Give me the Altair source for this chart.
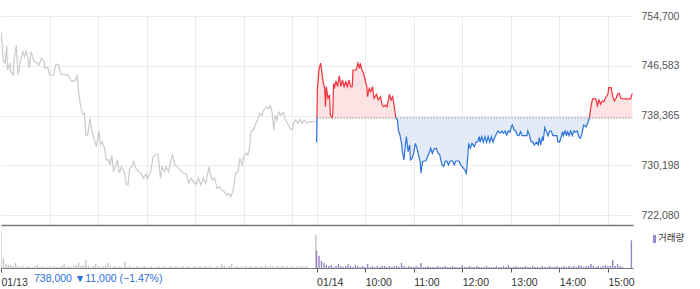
import altair as alt
import pandas as pd

BASE = 738000  # previous close (dotted reference line)

# ---- 01/13 (previous day) : minutes since 09:00, price ----
d1_min = [0, 3, 5, 7, 8, 11, 12, 15, 16, 19, 21, 24, 27, 29, 31, 33, 35, 37, 39, 41,
          45, 47, 50, 53, 54, 58, 60, 65, 68, 71, 74, 78, 82, 84, 87, 91, 94, 96, 98, 101,
          103, 105, 107, 110, 112, 115, 118, 121, 123, 125, 128, 130, 133, 135, 137, 139, 142, 144, 146, 149,
          152, 155, 157, 159, 162, 164, 167, 170, 173, 176, 179, 181, 185, 188, 192, 194, 197, 199, 202, 204,
          207, 210, 212, 215, 218, 221, 225, 229, 232, 235, 238, 241, 244, 247, 250, 253, 257, 258, 261, 264,
          267, 270, 273, 276, 279, 281, 284, 287, 290, 293, 295, 298, 300, 303, 305, 307, 309, 312, 315, 317,
          320, 323, 324, 328, 331, 333, 335, 337, 339, 341, 343, 346, 349, 351, 354, 357, 360, 361, 364, 367,
          369, 372, 375, 378, 381, 385, 389]
d1_price = [752130, 747210, 747000, 749830, 745850, 747000, 745570, 745030, 747490, 749830,
            745030, 747210, 748850, 748030, 748960, 748030, 746130, 748850, 748030, 747210,
            747000, 746670, 747770, 747210, 746230, 746230, 745030, 745030, 746780, 746780,
            745140, 745030, 745140, 744750, 744050, 744050, 744910, 742290, 740110, 738590,
            738750, 735190, 735080, 737930, 736010, 734650, 733280, 735850, 733560, 734100,
            733010, 731100, 731100, 730280, 731920, 729180, 730280, 731100, 728920, 730000,
            729180, 727110, 727000, 729740, 730000, 730820, 729620, 729180, 728920, 728100,
            728750, 727980, 729180, 731640, 732030, 732030, 728100, 730000, 729180, 730000,
            729180, 731100, 731920, 730280, 730000, 729460, 728920, 728920, 727280, 728100,
            727540, 727110, 728100, 727000, 728100, 727280, 730000, 729180, 727820, 728100,
            726460, 726720, 726180, 725900, 725360, 725640, 725080, 726180, 728920, 729180,
            731370, 730280, 731640, 732190, 731920, 733010, 735740, 736010, 737110, 737650,
            738750, 738470, 739130, 739830, 739570, 740000, 738920, 736010, 738470, 737650,
            738920, 738470, 738920, 737820, 737110, 736290, 736010, 736830, 737650, 737110,
            737770, 737110, 737650, 737110, 737370, 737370, 737490]

# ---- 01/14 (today) : minutes since 09:00, price ----
d2_min = [0, 1, 3, 5, 7, 8, 10, 11, 12, 14, 16, 17, 19, 20, 21, 22, 24, 26, 28, 30,
          32, 34, 36, 38, 40, 42, 44, 45, 49, 51, 53, 54, 56, 58, 60, 62, 63, 65, 67, 69,
          71, 74, 76, 79, 81, 83, 85, 87, 90, 92, 94, 96, 98, 100, 101, 103, 105, 106, 108, 110,
          111, 113, 115, 116, 118, 120, 122, 124, 126, 128, 129, 131, 133, 135, 137, 139, 141, 143, 145, 148,
          150, 152, 155, 157, 159, 161, 163, 165, 168, 170, 172, 176, 178, 180, 183, 185, 186, 188, 190, 192,
          195, 197, 199, 201, 202, 204, 206, 208, 210, 212, 214, 216, 218, 220, 222, 224, 227, 229, 231, 233,
          235, 237, 239, 241, 242, 244, 246, 248, 250, 252, 254, 257, 260, 261, 263, 265, 267, 269, 272, 274,
          275, 277, 279, 280, 282, 284, 286, 288, 290, 292, 295, 297, 298, 300, 302, 304, 305, 307, 309, 310,
          312, 314, 316, 318, 320, 322, 324, 326, 328, 330, 333, 335, 337, 339, 341, 343, 345, 347, 349, 351,
          353, 355, 357, 360, 361, 364, 366, 368, 370, 372, 374, 376, 380, 384, 388, 390]
d2_price = [734000, 742850, 746010, 746950, 745030, 743930, 742850, 739830, 743110, 741210,
            741750, 738470, 738030, 738750, 743670, 742850, 744050, 743110, 744910, 743110,
            744210, 743110, 743930, 743110, 744210, 743110, 743110, 745850, 745850, 746950,
            746130, 746950, 745850, 745310, 744210, 743110, 741470, 742850, 742290, 743110,
            741210, 741870, 740930, 741470, 740110, 739830, 740110, 739830, 741870, 740930,
            741470, 739830, 737930, 737650, 736010, 735190, 733830, 732460, 731100, 733830,
            734920, 732460, 733560, 731100, 731370, 732190, 733830, 733010, 731920, 730820,
            728920, 730820, 730930, 730930, 731640, 732190, 733010, 732190, 732900, 733010,
            732190, 732030, 730280, 730000, 730930, 730930, 730280, 730930, 730930, 730280,
            730930, 730930, 730280, 730000, 729460, 728920, 730280, 733830, 733010, 733830,
            733280, 734000, 734100, 734920, 734000, 734920, 734000, 734920, 734000, 734920,
            734000, 734920, 734000, 734750, 735310, 735850, 735470, 735850, 735470, 735850,
            735190, 735850, 735640, 736720, 736830, 736010, 735850, 735190, 735080, 735740,
            735080, 735080, 735080, 735850, 735190, 734100, 734100, 733560, 734000, 733560,
            734750, 733560, 734920, 734210, 736390, 735740, 735080, 735850, 735850, 735080,
            735080, 735080, 734100, 734000, 734750, 735740, 735080, 735850, 735080, 735850,
            735080, 735850, 735080, 735850, 735640, 735850, 734920, 734650, 735470, 736830,
            736550, 737110, 737930, 739830, 741100, 741100, 741100, 740000, 740930, 740230,
            740770, 740650, 741310, 741870, 742950, 742950, 741470, 740770, 741210, 741870,
            742030, 741210, 741100, 741100, 741100, 742030]

# ---- volume (thousand shares), one bar every 3 minutes, plus closing auctions ----
vol_step = 3
d1_vol = [36, 9, 4, 3, 3, 2, 5, 2, 1, 2, 1, 2, 1, 1, 2, 3, 1, 2, 1, 1,
          2, 1, 2, 1, 1, 2, 4, 1, 2, 1, 2, 3, 5, 2, 3, 8, 2, 1, 2, 4,
          2, 1, 2, 3, 5, 2, 1, 2, 1, 2, 1, 6, 1, 2, 1, 1, 2, 1, 1, 2,
          1, 1, 2, 1, 1, 2, 1, 2, 1, 1, 2, 1, 2, 1, 1, 2, 1, 2, 1, 1,
          2, 1, 2, 1, 2, 1, 2, 1, 1, 2, 1, 4, 2, 1, 2, 4, 1, 2, 1, 2,
          1, 2, 1, 2, 1, 2, 1, 2, 1, 3, 1, 2, 2, 1, 2, 1, 2, 1, 2, 1,
          2, 1, 2, 1, 2, 1, 2, 0, 0, 0]
d1_close_min, d1_close_vol = 389, 32
d2_vol = [17, 12, 7, 5, 3, 2, 3, 1, 2, 4, 2, 1, 2, 4, 2, 1, 3, 2, 1, 2,
          1, 4, 1, 2, 1, 2, 1, 2, 2, 1, 2, 1, 2, 2, 1, 5, 2, 1, 2, 1,
          1, 2, 1, 5, 1, 1, 2, 1, 1, 1, 2, 1, 1, 2, 1, 1, 2, 1, 1, 1,
          3, 1, 1, 2, 1, 1, 2, 1, 1, 1, 2, 1, 1, 1, 2, 1, 1, 2, 1, 3,
          1, 1, 2, 1, 1, 1, 2, 1, 1, 2, 1, 1, 1, 2, 1, 1, 2, 1, 1, 2,
          1, 1, 2, 1, 2, 1, 2, 1, 3, 2, 1, 2, 2, 4, 2, 1, 2, 1, 2, 3,
          2, 2, 8, 2, 4, 2, 1, 0, 0, 0]
d2_close_min, d2_close_vol = 389, 27

# ---- axis labels ----
price_ticks = [722080, 730198, 738365, 746583, 754700]
x_tick_vals = [0, 390, 450, 510, 570, 630, 690, 750]
x_tick_labels = ["01/13", "01/14", "10:00", "11:00", "12:00", "13:00", "14:00", "15:00"]
grid_vals = [60, 120, 180, 240, 300, 360, 390, 450, 510, 570, 630, 690, 750]
info_text = "738,000 \u25bc11,000 (\u22121.47%)"
legend_text = "거래량"

DAY = 390  # minutes in one session (09:00-15:30)

# ---------------- data frames ----------------
df1 = pd.DataFrame({"t": d1_min, "price": d1_price})

pts = [(m + DAY, p) for m, p in zip(d2_min, d2_price)]
rows = []
run = 0
side = lambda v: "up" if v >= BASE else "down"
cur = side(pts[0][1])
rows.append({"t": pts[0][0], "price": pts[0][1], "run": run, "side": cur})
for (ta, pa), (tb, pb) in zip(pts, pts[1:]):
    sb = side(pb)
    if sb != cur:
        tc = ta + (BASE - pa) / (pb - pa) * (tb - ta)
        rows.append({"t": tc, "price": BASE, "run": run, "side": cur})
        run += 1
        cur = sb
        rows.append({"t": tc, "price": BASE, "run": run, "side": cur})
    rows.append({"t": tb, "price": pb, "run": run, "side": cur})
df2 = pd.DataFrame(rows)
df2["t"] = df2["t"].astype(float)
df2["price"] = df2["price"].astype(float)
df2["base"] = float(BASE)
df_up = df2[df2["side"] == "up"]
df_dn = df2[df2["side"] == "down"]

vrows = []
for i, v in enumerate(d1_vol):
    if v > 0:
        vrows.append({"t": i * vol_step, "vol": v * 1000, "day": "d1"})
vrows.append({"t": d1_close_min, "vol": d1_close_vol * 1000, "day": "d1"})
for i, v in enumerate(d2_vol):
    if v > 0:
        vrows.append({"t": DAY + i * vol_step, "vol": v * 1000, "day": "d2"})
vrows.append({"t": DAY + d2_close_min, "vol": d2_close_vol * 1000, "day": "d2"})
dfv = pd.DataFrame(vrows)

# ---------------- styles ----------------
W = 632
H_MAIN = 209
H_VOL = 42
X_DOMAIN = [0, 781]
Y_DOMAIN = [720441, 754700]
GRID = "#ebebeb"
RED, BLUE = "#f2323c", "#2e74d8"
PINK, LIGHTBLUE = "#fde3e4", "#e3ebf8"
GRAY_LINE = "#c8cace"
PURPLE, GRAY_BAR = "#9a84c8", "#c6c6c6"
FONT = "Liberation Sans"

xs = alt.Scale(domain=X_DOMAIN, nice=False, zero=False, padding=0)
ys = alt.Scale(domain=Y_DOMAIN, nice=False, zero=False)

x_main = alt.X("t:Q", scale=xs, title=None,
               axis=alt.Axis(values=grid_vals, labels=False, ticks=False, grid=True,
                             gridColor=GRID, domain=True, domainColor="#7a7a7a",
                             domainWidth=1.5))
y_main = alt.Y("price:Q", scale=ys, title=None,
               axis=alt.Axis(orient="right", values=price_ticks, format=",d",
                             ticks=False, domain=False, grid=True, gridColor=GRID,
                             labelPadding=8, labelFontSize=10.5, labelColor="#555",
                             labelFont=FONT))

gray = alt.Chart(df1).mark_line(color=GRAY_LINE, strokeWidth=1.2, clip=True).encode(x=x_main, y=y_main)


def fill(df, color):
    return alt.Chart(df).mark_area(color=color, opacity=1, clip=True).encode(
        x=alt.X("t:Q", scale=xs),
        y=alt.Y("price:Q", scale=ys, stack=None),
        y2=alt.Y2("base:Q"),
        detail="run:N",
    )


def stroke(df, color):
    return alt.Chart(df).mark_line(color=color, strokeWidth=1.2, clip=True).encode(
        x=alt.X("t:Q", scale=xs),
        y=alt.Y("price:Q", scale=ys),
        detail="run:N",
    )


baseline = alt.Chart(pd.DataFrame({"t": [DAY], "t2": [2 * DAY], "price": [BASE]})).mark_rule(
    color="#555", strokeDash=[1, 2], strokeWidth=1, clip=True).encode(
    x=alt.X("t:Q", scale=xs), x2="t2:Q", y=alt.Y("price:Q", scale=ys))

main = alt.layer(
    gray, fill(df_up, PINK), fill(df_dn, LIGHTBLUE), baseline,
    stroke(df_up, RED), stroke(df_dn, BLUE)
).properties(width=W, height=H_MAIN)

label_expr = " : ".join(
    f"datum.value == {v} ? '{l}'" for v, l in zip(x_tick_vals, x_tick_labels)) + " : ''"

bars = alt.Chart(dfv).mark_bar(width=1.4, clip=True).encode(
    x=alt.X("t:Q", scale=xs, title=None,
            axis=alt.Axis(values=x_tick_vals, labelExpr=label_expr, labelAlign="left",
                          labelPadding=5, labelFontSize=10.5, labelColor="#333", labelFont=FONT,
                          tickSize=4, tickColor="#555", domainColor="#7a7a7a", grid=False,
                          labelFlush=False, labelOverlap=False, labelBound=False)),
    y=alt.Y("vol:Q", scale=alt.Scale(domain=[0, H_VOL * 1000], nice=False), axis=None),
    color=alt.Color("day:N", scale=alt.Scale(domain=["d1", "d2"], range=[GRAY_BAR, PURPLE]), legend=None),
)

info = alt.Chart(pd.DataFrame({"txt": [info_text]})).mark_text(
    align="left", baseline="middle", fontSize=10.5, font=FONT, color="#2c6fdc").encode(
    text="txt:N", x=alt.value(33), y=alt.value(H_VOL + 12))

leg_sq = alt.Chart(pd.DataFrame({"a": [1]})).mark_rect(color=PURPLE).encode(
    x=alt.value(652), x2=alt.value(655), y=alt.value(10), y2=alt.value(18))
leg_txt = alt.Chart(pd.DataFrame({"txt": [legend_text]})).mark_text(
    align="left", baseline="middle", fontSize=9.5, font="Noto Sans CJK KR", color="#333").encode(
    text="txt:N", x=alt.value(657), y=alt.value(13))

vol = alt.layer(bars, info, leg_sq, leg_txt).properties(width=W, height=H_VOL + 1)

chart = alt.vconcat(main, vol, spacing=0, bounds="flush").properties(
    padding={"left": 0, "top": 11, "right": 0, "bottom": 0},
    background="white",
).configure_view(stroke=None)

chart.save("out.html", embed_options={"renderer": "svg", "actions": False})
